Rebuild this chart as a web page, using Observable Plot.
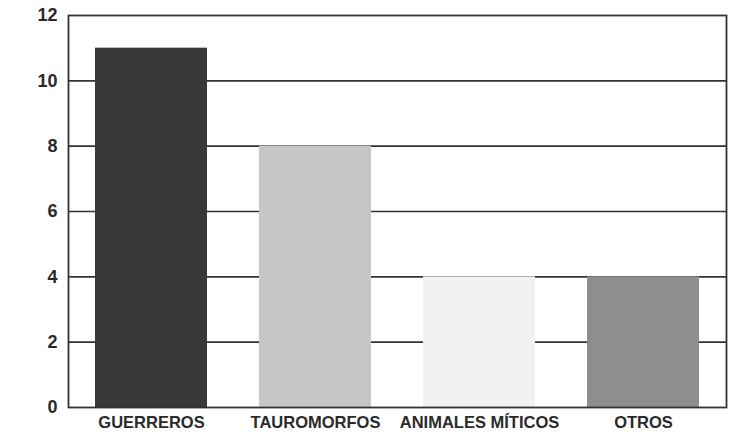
<!DOCTYPE html>
<html><head><meta charset="utf-8">
<script src="https://cdn.jsdelivr.net/npm/d3@7"></script>
<script src="https://cdn.jsdelivr.net/npm/@observablehq/plot@0.6"></script>
<style>body{margin:0;background:#fff;} svg{font-family:"Liberation Sans",Arial,sans-serif;}</style>
</head><body><div id="chart"></div>
<script>
const categories = ["GUERREROS", "TAUROMORFOS", "ANIMALES MÍTICOS", "OTROS"];
const values = [11, 8, 4, 4];
const colors = ["#383838", "#c6c6c6", "#f1f1f1", "#8e8e8e"];
const yTicks = [0, 2, 4, 6, 8, 10, 12];
const data = categories.map((c, i) => ({cat: c, value: values[i], color: colors[i]}));

const chart = Plot.plot({
  width: 737, height: 435,
  marginLeft: 68, marginRight: 11, marginTop: 15, marginBottom: 28,
  x: {domain: categories, paddingInner: 0.32, paddingOuter: 0.155, label: null},
  y: {domain: [0, 12], ticks: yTicks, label: null},
  style: {fontWeight: "bold", color: "#2a2a2a"},
  marks: [
    Plot.ruleY(yTicks.slice(1, -1), {stroke: "#333", strokeWidth: 1.6}),
    Plot.barY(data, {x: "cat", y: "value", fill: "color"}),
    Plot.frame({stroke: "#333", strokeWidth: 1.8}),
    Plot.axisY({ticks: yTicks, tickSize: 0, tickPadding: 11, fontSize: 18, label: null}),
    Plot.axisX({tickSize: 0, tickPadding: 9, fontSize: 16.5, label: null})
  ]
});
document.getElementById("chart").appendChild(chart);
</script></body></html>
